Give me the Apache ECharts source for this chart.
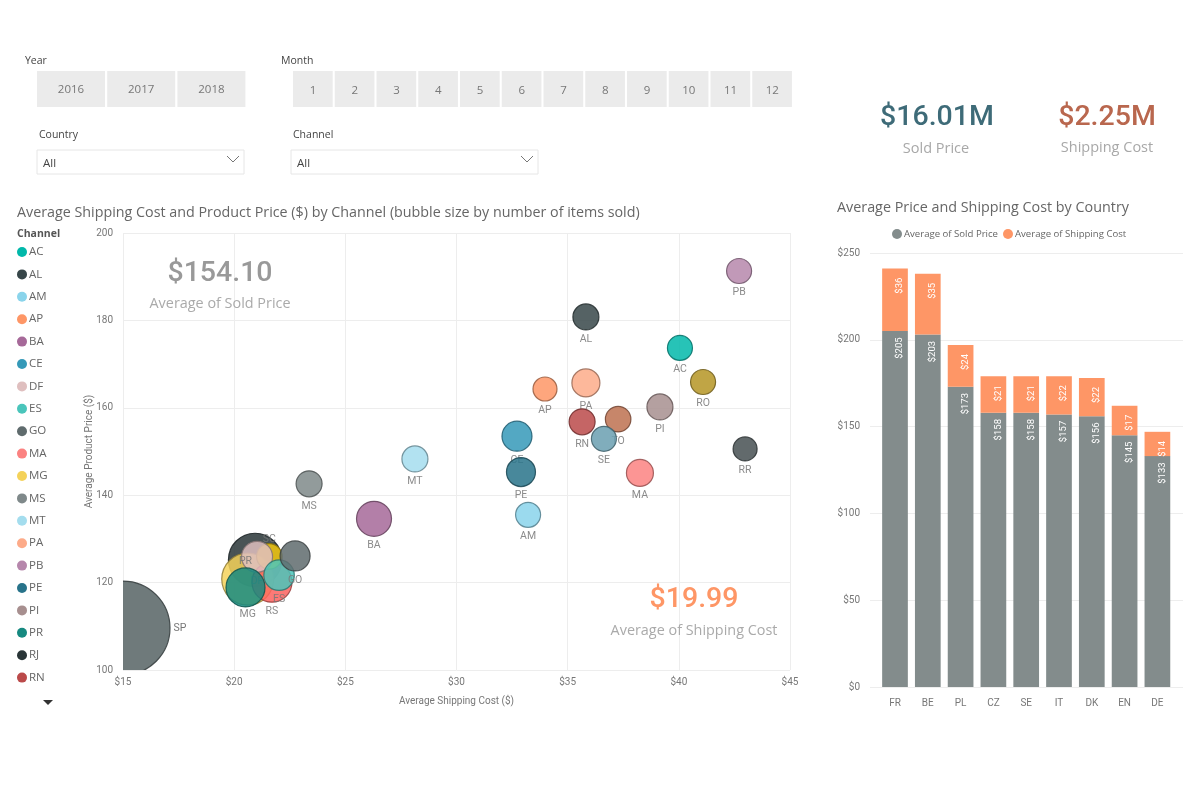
<!DOCTYPE html>
<html><head><meta charset="utf-8">
<style>html,body{margin:0;padding:0;background:#fff}#c{width:1200px;height:800px}</style>
<script src="https://cdn.jsdelivr.net/npm/echarts@6/dist/echarts.min.js"></script>
</head><body><div id="c"></div>
<script>
var channels=['AC','AL','AM','AP','BA','CE','DF','ES','GO','MA','MG','MS','MT','PA','PB','PE','PI','PR','RJ','RN','RO','RR','RS','SC','SE','SP','TO'];
var shipCost=[40.05,35.82,33.22,33.98,26.29,32.72,21.03,22.02,22.74,38.25,20.61,23.37,28.13,35.82,42.71,32.9,39.15,20.51,20.94,35.65,41.09,42.98,21.7,21.58,36.63,15,37.27];
var prodPrice=[173.7,180.8,135.5,164.3,134.6,153.5,125.9,121.7,126.1,145.1,120.8,142.6,148.3,165.7,191.3,145.3,160.2,118.9,125.2,156.8,165.9,150.6,120.1,126.0,152.9,109.6,157.4];
var itemsSold=[625,676,625,576,1225,900,961,930,900,729,2704,676,676,784,625,841,676,1521,2840,676,625,576,1600,650,625,8836,650];
var channelColors=['#01B8AA','#374649','#8AD4EB','#FE9666','#A66999','#3599B8','#DFBFBF','#4AC5BB','#5F6B6D','#FB8281','#F4D25A','#7F898A','#A4DDEE','#FDAB89','#B687AC','#28738A','#A78F8F','#168980','#293537','#BB4A4A','#B59525','#475052','#FD625E','#F2C80F','#6A9FB0','#5F6B6D','#BD7150'];
var drawOrder=['SP','RJ','MG','RS','SC','DF','PR','BA','ES','CE','PE','GO','PA','MA','AL','MS','MT','PI','RN','TO','AC','AM','PB','RO','SE','AP','RR'];
var legendChannels=channels.slice(0,20);
var countries=['FR','BE','PL','CZ','SE','IT','DK','EN','DE'];
var avgSold=[205,203,173,158,158,157,156,145,133];
var avgShip=[36,35,24,21,21,22,22,17,14];
var years=['2016','2017','2018'];
var months=['1','2','3','4','5','6','7','8','9','10','11','12'];

var UI='"Open Sans","Noto Sans",sans-serif', NUM='Roboto,"Noto Sans",sans-serif';
function hexDark(h){var n=parseInt(h.slice(1),16),r=(n>>16)*.6|0,g=((n>>8)&255)*.6|0,b=(n&255)*.6|0;return 'rgb('+r+','+g+','+b+')';}
function txt(t,x,y,size,color,align,family,weight){return {type:'text',silent:true,z:50,style:{text:t,x:x,y:y+1,fontSize:size,fill:color,align:align||'left',verticalAlign:'middle',fontFamily:family||UI,fontWeight:weight||'normal'}};}
function rect(x,y,w,h,fill,stroke){return {type:'rect',silent:true,z:40,shape:{x:x,y:y,width:w,height:h},style:{fill:fill,stroke:stroke||null,lineWidth:1}};}
function chevron(x,y){return {type:'polyline',silent:true,z:50,shape:{points:[[x-6,y-4],[x,y+2],[x+6,y-4]]},style:{stroke:'#777',fill:null,lineWidth:1}};}

var g=[];
g.push(txt('Year',25,60,10.5,'#444'),txt('Month',281,60,10.5,'#444'),txt('Country',39,134,10.5,'#444'),txt('Channel',293,134,10.5,'#444'));
years.forEach(function(y,i){var x=37+i*70.2;g.push(rect(x,71,68,36,'#ebebeb'),txt(y,x+34,88.5,11.5,'#777','center'));});
months.forEach(function(m,i){var x=293+i*41.75;g.push(rect(x,71,39.7,36,'#ebebeb'),txt(m,x+20,89.5,11.5,'#777','center'));});
g.push(rect(37,150,207,24,'#fff','#e6e6e6'),txt('All',43,163,11.5,'#444'),chevron(233,160));
g.push(rect(291,150,247,24,'#fff','#e6e6e6'),txt('All',297,163,11.5,'#444'),chevron(527,160));
g.push(txt('Average Shipping Cost and Product Price ($) by Channel (bubble size by number of items sold)',17,212,14.3,'#666'));
g.push(txt('Average Price and Shipping Cost by Country',837,207,14.35,'#666'));
g.push(txt('Channel',17,233,10.5,'#555','left',UI,'bold'));
g.push({type:'polygon',silent:true,z:50,shape:{points:[[43,700],[53,700],[48,705]]},style:{fill:'#333'}});
g.push(txt('$16.01M',937,117,28.5,'#3E6B78','center',NUM,500),txt('Sold Price',936,148,14.5,'#A8A8A8','center'));
g.push(txt('$2.25M',1107,117,28.5,'#B9674E','center',NUM,500),txt('Shipping Cost',1107,147,14.5,'#A8A8A8','center'));
g.push(txt('$154.10',220,273,28.5,'#999','center',NUM,500),txt('Average of Sold Price',220,303,14.4,'#AAA','center'));
g.push(txt('$19.99',694,599,28.5,'#FE9666','center',NUM,500),txt('Average of Shipping Cost',694,630,14.4,'#AAA','center'));

var labelOverride={PR:{position:'top',distance:0},RJ:{show:false},SC:{position:'top',distance:-2}};
var series=channels.map(function(c,i){
  var point=[shipCost[i],prodPrice[i],itemsSold[i]], z=10+drawOrder.indexOf(c);
  if(c==='SP'){
    // a custom series is the one that is truly clipped to the grid, as this bubble is in the picture
    return {type:'custom',name:c,xAxisIndex:0,yAxisIndex:0,clip:true,z:z,encode:{x:0,y:1},data:[point],silent:true,
      renderItem:function(params,api){
        var p=api.coord([api.value(0),api.value(1)]);
        return {type:'circle',shape:{cx:p[0],cy:p[1],r:Math.sqrt(api.value(2))/2},
          style:{fill:channelColors[i],stroke:hexDark(channelColors[i]),lineWidth:1.2,opacity:0.9},
          textContent:{style:{text:c,fill:'#777',fontSize:10.5,fontFamily:NUM}},
          textConfig:{position:'right',distance:3}};
      }};
  }
  var lab={show:true,formatter:c,position:'bottom',distance:3,fontSize:10.5,color:'#777',fontFamily:NUM};
  var o=labelOverride[c]; if(o){for(var k in o)lab[k]=o[k];}
  return {type:'scatter',name:c,xAxisIndex:0,yAxisIndex:0,clip:true,z:z,
    data:[point],
    symbolSize:function(v){return Math.sqrt(v[2]);},
    itemStyle:{color:channelColors[i],opacity:0.85,borderColor:hexDark(channelColors[i]),borderWidth:1.2},
    label:lab,emphasis:{disabled:true}};
});
var barLab=function(){return {show:true,position:'insideTop',distance:17,rotate:90,color:'#fff',fontSize:9.5,fontFamily:NUM,formatter:function(p){return '$'+p.value;}};};
series.push({type:'bar',name:'Average of Sold Price',stack:'t',xAxisIndex:1,yAxisIndex:1,barWidth:25.7,data:avgSold,itemStyle:{color:'#838C8C'},label:barLab(),z:5});
series.push({type:'bar',name:'Average of Shipping Cost',stack:'t',xAxisIndex:1,yAxisIndex:1,barWidth:25.7,data:avgShip,itemStyle:{color:'#FE9666'},label:barLab(),z:5});

var axisText={color:'#777',fontSize:10,fontFamily:NUM};
var chart=echarts.init(document.getElementById('c'),null,{renderer:'canvas'});
chart.setOption({
  animation:false,backgroundColor:'#fff',
  textStyle:{fontFamily:UI},
  legend:[
    {data:legendChannels,orient:'vertical',left:12,top:241,itemWidth:10,itemHeight:10,itemGap:10.4,icon:'circle',selectedMode:false,
     itemStyle:{borderWidth:0,opacity:1},
     textStyle:{color:'#666',fontSize:11.5,fontFamily:UI,padding:[0,0,0,-3]}},
    {data:['Average of Sold Price','Average of Shipping Cost'],left:887,top:224,itemWidth:10,itemHeight:10,itemGap:5,icon:'circle',selectedMode:false,
     textStyle:{color:'#666',fontSize:9.6,fontFamily:UI,padding:[0,0,0,-3]}}
  ],
  grid:[
    {left:123,top:233,width:667,height:437},
    {left:878.6,top:253,width:295.2,height:434},
    {left:870,top:253,width:313,height:434}
  ],
  xAxis:[
    {type:'value',gridIndex:0,min:15,max:45,interval:5,name:'Average Shipping Cost ($)',nameLocation:'middle',nameGap:26,nameTextStyle:{color:'#777',fontSize:10,fontFamily:NUM},
     axisLabel:Object.assign({formatter:function(v){return '$'+v;},margin:7},axisText),axisLine:{show:false},axisTick:{show:false},splitLine:{lineStyle:{color:'#EDEDED'}}},
    {type:'category',gridIndex:1,data:countries,axisLabel:Object.assign({margin:11},axisText),axisLine:{show:false},axisTick:{show:false}},
    {type:'value',gridIndex:2,min:0,max:1,show:false,splitLine:{show:false}}
  ],
  yAxis:[
    {type:'value',gridIndex:0,min:100,max:200,interval:20,name:'Average Product Price ($)',nameLocation:'middle',nameGap:29,nameMoveOverlap:false,nameRotate:90,nameTextStyle:{color:'#777',fontSize:10,fontFamily:NUM},
     axisLabel:Object.assign({margin:10},axisText),axisLine:{show:false},axisTick:{show:false},splitLine:{lineStyle:{color:'#EDEDED'}}},
    {type:'value',gridIndex:1,min:0,max:250,interval:50,show:false,splitLine:{show:false}},
    {type:'value',gridIndex:2,min:0,max:250,interval:50,
     axisLabel:Object.assign({formatter:function(v){return '$'+v;},margin:10},axisText),axisLine:{show:false},axisTick:{show:false},splitLine:{lineStyle:{color:'#EDEDED'}}}
  ],
  series:series,
  graphic:{elements:g}
});
</script></body></html>
